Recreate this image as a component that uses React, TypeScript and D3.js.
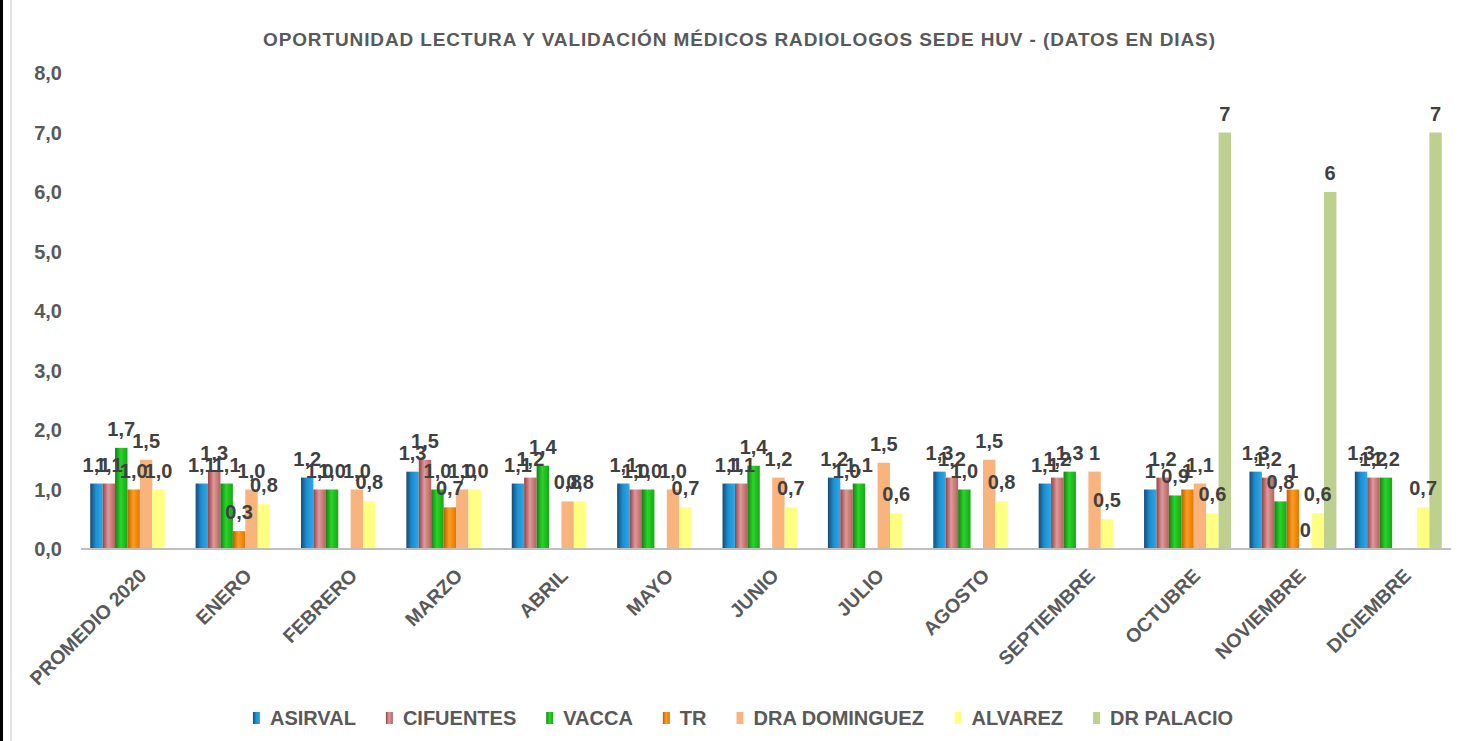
import React from "react";
import * as d3 from "d3";

const categories = ["PROMEDIO 2020", "ENERO", "FEBRERO", "MARZO", "ABRIL", "MAYO", "JUNIO", "JULIO", "AGOSTO", "SEPTIEMBRE", "OCTUBRE", "NOVIEMBRE", "DICIEMBRE"];

const seriesNames = ["ASIRVAL", "CIFUENTES", "VACCA", "TR", "DRA DOMINGUEZ", "ALVAREZ", "DR PALACIO"];

const asirval = [1.1, 1.1, 1.2, 1.3, 1.1, 1.1, 1.1, 1.2, 1.3, 1.1, 1.0, 1.3, 1.3];
const cifuentes = [1.1, 1.3, 1.0, 1.5, 1.2, 1.0, 1.1, 1.0, 1.2, 1.2, 1.2, 1.2, 1.2];
const vacca = [1.7, 1.1, 1.0, 1.0, 1.4, 1.0, 1.4, 1.1, 1.0, 1.3, 0.9, 0.8, 1.2];
const tr = [1.0, 0.3, null, 0.7, null, null, null, null, null, null, 1.0, 1.0, null];
const dominguez = [1.5, 1.0, 1.0, 1.0, 0.8, 1.0, 1.2, 1.45, 1.5, 1.3, 1.1, 0, null];
const alvarez = [1.0, 0.75, 0.8, 1.0, 0.8, 0.7, 0.7, 0.6, 0.8, 0.5, 0.6, 0.6, 0.7];
const palacio = [null, null, null, null, null, null, null, null, null, null, 7, 6, 7];

const asirvalLabels = ["1,1", "1,1", "1,2", "1,3", "1,1", "1,1", "1,1", "1,2", "1,3", "1,1", "1", "1,3", "1,3"];
const cifuentesLabels = ["1,1", "1,3", "1,0", "1,5", "1,2", "1,0", "1,1", "1,0", "1,2", "1,2", "1,2", "1,2", "1,2"];
const vaccaLabels = ["1,7", "1,1", "1,0", "1,0", "1,4", "1,0", "1,4", "1,1", "1,0", "1,3", "0,9", "0,8", "1,2"];
const trLabels = ["1,0", "0,3", "", "0,7", "", "", "", "", "", "", "1", "1", ""];
const dominguezLabels = ["1,5", "1,0", "1,0", "1,0", "0,8", "1,0", "1,2", "1,5", "1,5", "1", "1,1", "0", ""];
const alvarezLabels = ["1,0", "0,8", "0,8", "1,0", "0,8", "0,7", "0,7", "0,6", "0,8", "0,5", "0,6", "0,6", "0,7"];
const palacioLabels = ["", "", "", "", "", "", "", "", "", "", "7", "6", "7"];

const yTicks = [0, 1, 2, 3, 4, 5, 6, 7, 8];

const seriesValues = [asirval, cifuentes, vacca, tr, dominguez, alvarez, palacio];
const seriesLabels = [asirvalLabels, cifuentesLabels, vaccaLabels, trLabels, dominguezLabels, alvarezLabels, palacioLabels];

const gradients: string[][] = [
  ["#174a75", "#1d8fd0", "#2aa9e8"],
  ["#9a3e40", "#dc9a9a", "#bb5f5f"],
  ["#177f17", "#26d626", "#1aa51a"],
  ["#bf5e00", "#ff9c20", "#e07800"],
  ["#f9b37d", "#f9b37d", "#f9b37d"],
  ["#ffff82", "#ffff82", "#ffff82"],
  ["#bdd08f", "#bdd08f", "#bdd08f"],
];

const FONT = "'Liberation Sans', Arial, sans-serif";
const W = 1462;
const H = 741;

function measure(text: string, size: number): number {
  try {
    const c = document.createElement("canvas");
    const ctx = c.getContext("2d");
    if (ctx) {
      ctx.font = `bold ${size}px 'Liberation Sans', Arial, sans-serif`;
      return ctx.measureText(text).width;
    }
  } catch (e) {}
  return text.length * size * 0.68;
}

export default function App() {
  const x0 = d3.scaleBand<string>().domain(categories).range([81, 1451]).paddingInner(0.175).paddingOuter(0.0875);
  const x1 = d3.scaleBand<string>().domain(seriesNames).range([0, x0.bandwidth()]).padding(0);
  const y = d3.scaleLinear().domain([0, 8]).range([549, 73]);

  const legendFont = 20;
  const keyW = 7;
  const keyGap = 10;
  const itemGap = 30;
  const widths = seriesNames.map((s) => measure(s, legendFont));
  const total = widths.reduce((a, w) => a + keyW + keyGap + w, 0) + itemGap * (seriesNames.length - 1);
  let lx = 743 - total / 2;
  const legendItems = seriesNames.map((s, i) => {
    const item = { name: s, x: lx, i };
    lx += keyW + keyGap + widths[i] + itemGap;
    return item;
  });

  return (
    <svg width={W} height={H} style={{ position: "absolute", left: 0, top: 0, background: "#fff" }} fontFamily={FONT}>
      <defs>
        {gradients.map((g, i) => (
          <linearGradient key={i} id={`g${i}`} x1="0" x2="1" y1="0" y2="0">
            <stop offset="0%" stopColor={g[0]} />
            <stop offset="45%" stopColor={g[1]} />
            <stop offset="100%" stopColor={g[2]} />
          </linearGradient>
        ))}
      </defs>
      <rect x={0} y={0} width={W} height={H} fill="#fff" />
      <rect x={0} y={0} width={3} height={H} fill="#000" />
      <line x1={11} x2={11} y1={0} y2={H} stroke="#d9d9d9" strokeWidth={1.5} />

      <text x={739} y={46} textAnchor="middle" fontSize={19} fontWeight="bold" fill="#595959" textLength={952} lengthAdjust="spacing">
        OPORTUNIDAD LECTURA Y VALIDACIÓN MÉDICOS RADIOLOGOS SEDE HUV - (DATOS EN DIAS)
      </text>

      {yTicks.map((t) => (
        <text key={t} x={62} y={y(t)} dy="0.36em" textAnchor="end" fontSize={20} fontWeight="bold" fill="#595959">
          {d3.format(".1f")(t).replace(".", ",")}
        </text>
      ))}

      {categories.map((c, ci) => (
        <g key={c} transform={`translate(${x0(c)},0)`}>
          {seriesNames.map((s, si) => {
            const v = seriesValues[si][ci];
            if (v === null || v === undefined) return null;
            const bx = x1(s) as number;
            return (
              <rect key={s} x={bx} y={y(v)} width={x1.bandwidth()} height={y(0) - y(v)} fill={`url(#g${si})`} />
            );
          })}
        </g>
      ))}

      <line x1={81} x2={1451} y1={y(0)} y2={y(0)} stroke="#bfbfbf" strokeWidth={2} />

      {categories.map((c, ci) => (
        <g key={c + "l"} transform={`translate(${x0(c)},0)`}>
          {seriesNames.map((s, si) => {
            const v = seriesValues[si][ci];
            const lab = seriesLabels[si][ci];
            if (v === null || v === undefined || !lab) return null;
            const bx = (x1(s) as number) + x1.bandwidth() / 2;
            return (
              <text key={s} x={bx} y={y(v) - 12} textAnchor="middle" fontSize={20} fontWeight="bold" fill="#404040">
                {lab}
              </text>
            );
          })}
        </g>
      ))}

      {categories.map((c) => {
        const cx = (x0(c) as number) + x0.bandwidth() / 2;
        return (
          <text key={c + "x"} transform={`translate(${cx + 4},567) rotate(-45)`} dy="0.72em" textAnchor="end" fontSize={19.5} fontWeight="bold" fill="#595959">
            {c}
          </text>
        );
      })}

      {legendItems.map((it) => (
        <g key={it.name}>
          <rect x={it.x} y={712} width={keyW} height={12} fill={`url(#g${it.i})`} />
          <text x={it.x + keyW + keyGap} y={725} fontSize={legendFont} fontWeight="bold" fill="#595959">
            {it.name}
          </text>
        </g>
      ))}
    </svg>
  );
}
